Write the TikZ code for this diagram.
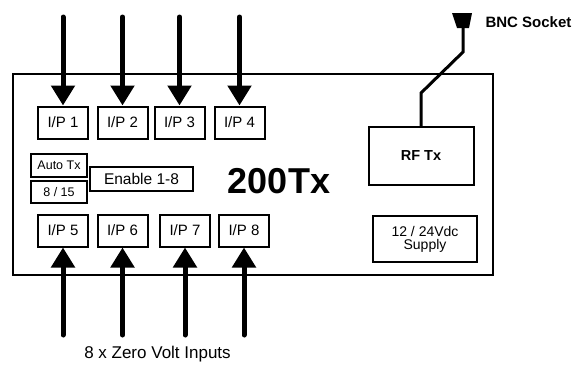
\documentclass[tikz,border=0pt]{standalone}
\usepackage{fontspec}
\setmainfont{Liberation Sans}
\usetikzlibrary{arrows.meta}

\begin{document}
\begin{tikzpicture}[x=1pt,y=-1pt,line cap=round,
  ipbox/.style={draw,line width=2pt,minimum width=50pt,minimum height=32pt,inner sep=0pt,font=\fontsize{15}{16}\selectfont},
  smallbox/.style={draw,line width=2pt,inner sep=0pt},
  bigarrow/.style={line width=5pt,-{Triangle[width=23pt,length=20pt]}}]
\useasboundingbox (0,0) rectangle (572,365);
% housing
\draw[line width=2.2pt] (13,74) rectangle (493,275);
% inputs
\node[ipbox] (ip1) at (63,122.5) {I/P 1};
\node[ipbox] (ip2) at (122.5,122.5) {I/P 2};
\node[ipbox] (ip3) at (179.5,122.5) {I/P 3};
\node[ipbox] (ip4) at (239.5,122.5) {I/P 4};
\node[ipbox] (ip5) at (63,230.5) {I/P 5};
\node[ipbox] (ip6) at (122.5,230.5) {I/P 6};
\node[ipbox] (ip7) at (185,230.5) {I/P 7};
\node[ipbox] (ip8) at (244,230.5) {I/P 8};
\foreach \n in {1,...,4}
  \draw[bigarrow] (ip\n.north |- 0,17) -- (ip\n.north);
\foreach \n in {5,...,8}
  \draw[bigarrow] (ip\n.south |- 0,335) -- (ip\n.south);
\node[anchor=base,font=\fontsize{17}{20}\selectfont] (inputs) at (157.5,358) {8 x Zero Volt Inputs};
% auto tx
\node[smallbox,minimum width=56pt,minimum height=23pt,font=\fontsize{12.5}{14}\selectfont] (autotx) at (59,165.5) {Auto Tx};
\node[smallbox,minimum width=56pt,minimum height=22pt,font=\fontsize{12.5}{14}\selectfont] (period) at (59,192) {8 / 15};
\node[smallbox,minimum width=103pt,minimum height=24pt,font=\fontsize{15.5}{17}\selectfont] (enable) at (141.5,179) {Enable 1-8};
\node[anchor=base,font=\fontsize{36}{40}\bfseries\selectfont] (title) at (279,193) {200Tx};
% rf side
\node[smallbox,minimum width=105pt,minimum height=58pt,font=\fontsize{14.5}{16}\bfseries\selectfont] (rftx) at (421,156) {RF Tx};
\node[smallbox,minimum width=104pt,minimum height=46pt,align=center,font=\fontsize{14}{13}\selectfont] (supply) at (425,239) {12 / 24Vdc\\Supply};
\fill (452,13) -- (472,13) -- (469,28) -- (457,28) -- cycle;
\coordinate (bnc) at (463,28);
\node[anchor=base west,font=\fontsize{15}{18}\bfseries\selectfont] (bnclabel) at (482,27) {BNC Socket};
\draw[line width=3pt,line cap=butt] (bnc) -- (463,52) -- (421,93) -- (rftx.north);
\end{tikzpicture}
\end{document}
